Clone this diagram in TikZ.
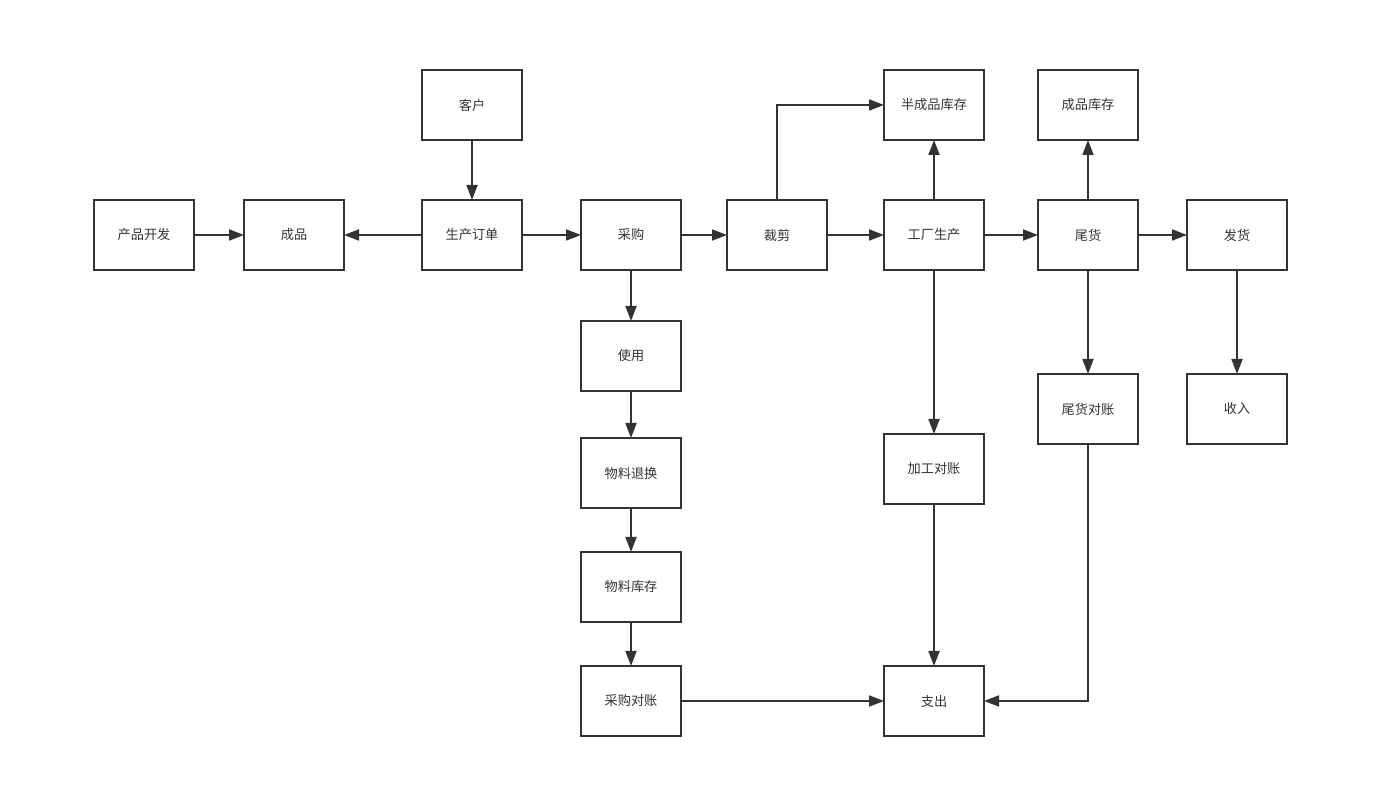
\documentclass[tikz,border=0pt]{standalone}
\usepackage{fontspec}
\newfontfamily\cjk{Noto Sans CJK SC}
\usetikzlibrary{positioning,arrows.meta}
\definecolor{linegray}{HTML}{333333}
\tikzset{
    box/.style = {
        draw = linegray,
        line width = 1pt,
        outer sep = 0pt,
        minimum width = 2cm,
        minimum height = 1.4cm,
        text = linegray,
        font = \cjk\fontsize{7.5}{9}\selectfont,
        },
    flow/.style = {
        draw = linegray,
        line width = 1pt,
        -{Triangle[length=0.3cm, width=0.22cm]},
        },
}
\begin{document}
\begin{tikzpicture}
            \useasboundingbox (0,0) rectangle (27.62,-16.12);
            \node[box] (dev) at (2.88,-4.70) {产品开发};
            \node[box, right=1cm of dev] (product) {成品};
            \node[box, right=1.56cm of product] (order) {生产订单};
            \node[box, above=1.2cm of order] (client) {客户};
            \node[box, right=1.18cm of order] (buy) {采购};
            \node[box, below=1.02cm of buy] (use) {使用};
            \node[box, below=0.94cm of use] (swap) {物料退换};
            \node[box, below=0.88cm of swap] (stock) {物料库存};
            \node[box, below=0.88cm of stock] (buycheck) {采购对账};
            \node[box, right=0.92cm of buy] (cut) {裁剪};
            \node[box, right=1.14cm of cut] (factory) {工厂生产};
            \node[box, above=1.2cm of factory] (semi) {半成品库存};
            \node[box, below=3.28cm of factory] (proccheck) {加工对账};
            \node[box, below=3.24cm of proccheck] (pay) {支出};
            \node[box, right=1.08cm of factory] (tail) {尾货};
            \node[box, above=1.2cm of tail] (finstock) {成品库存};
            \node[box, below=2.08cm of tail] (tailcheck) {尾货对账};
            \node[box, right=0.98cm of tail] (ship) {发货};
            \node[box, below=2.08cm of ship] (income) {收入};

            \path[flow] (dev) -- (product);
            \path[flow] (order) -- (product);
            \path[flow] (client) -- (order);
            \path[flow] (order) -- (buy);
            \path[flow] (buy) -- (cut);
            \path[flow] (buy) -- (use);
            \path[flow] (use) -- (swap);
            \path[flow] (swap) -- (stock);
            \path[flow] (stock) -- (buycheck);
            \path[flow] (buycheck) -- (pay);
            \path[flow] (cut) -- (factory);
            \path[flow] (cut) |- (semi);
            \path[flow] (factory) -- (semi);
            \path[flow] (factory) -- (tail);
            \path[flow] (factory) -- (proccheck);
            \path[flow] (proccheck) -- (pay);
            \path[flow] (tail) -- (finstock);
            \path[flow] (tail) -- (ship);
            \path[flow] (tail) -- (tailcheck);
            \path[flow] (tailcheck) |- (pay);
            \path[flow] (ship) -- (income);
        \end{tikzpicture}
\end{document}
